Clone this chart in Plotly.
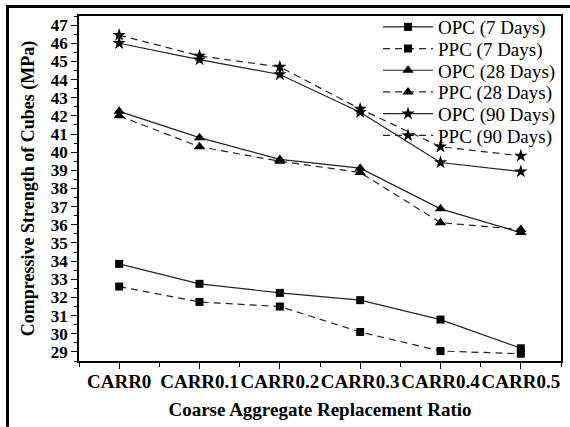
import plotly.graph_objects as go

categories = ["CARR0", "CARR0.1", "CARR0.2", "CARR0.3", "CARR0.4", "CARR0.5"]
opc_7 = [33.85, 32.75, 32.25, 31.85, 30.78, 29.2]
ppc_7 = [32.6, 31.75, 31.5, 30.1, 29.05, 28.9]
opc_28 = [42.25, 40.8, 39.6, 39.12, 36.88, 35.57]
ppc_28 = [42.0, 40.3, 39.5, 38.88, 36.12, 35.74]
opc_90 = [46.0, 45.1, 44.28, 42.2, 39.43, 38.93]
ppc_90 = [46.45, 45.3, 44.7, 42.38, 40.3, 39.8]
y_ticks = list(range(29, 48))

series = [
    ("OPC (7 Days)", opc_7, "solid", "square", 8),
    ("PPC (7 Days)", ppc_7, "7px,5px", "square", 8),
    ("OPC (28 Days)", opc_28, "solid", "triangle-up", 10),
    ("PPC (28 Days)", ppc_28, "7px,5px", "triangle-up", 10),
    ("OPC (90 Days)", opc_90, "solid", "star", 10),
    ("PPC (90 Days)", ppc_90, "7px,5px", "star", 10),
]

W, H = 570, 427
L, R, T, B = 79, 9, 15, 66
pw, ph = W - L - R, H - T - B

def px_x(p):
    return (p - L) / pw

def px_y(p):
    return (H - B - p) / ph

serif = "Liberation Serif, Times New Roman, serif"
xs = list(range(len(categories)))
fig = go.Figure()
legends = {}
for i, (name, vals, dash, sym, size) in enumerate(series):
    lg = "legend" if i == 0 else f"legend{i + 1}"
    fig.add_trace(go.Scatter(
        x=xs, y=vals, name=name, mode="lines+markers", legend=lg,
        line=dict(color="#222222", width=1.2, dash=dash),
        marker=dict(symbol=sym, size=size, color="black"),
    ))
    legends[lg] = dict(
        x=px_x(378), y=px_y(27 + 21.7 * i), xanchor="left", yanchor="middle",
        bgcolor="rgba(0,0,0,0)", font=dict(family=serif, size=19, color="black"),
        itemwidth=50,
    )

fig.update_layout(
    width=W, height=H,
    margin=dict(l=L, r=R, t=T, b=B),
    plot_bgcolor="white", paper_bgcolor="white",
    font=dict(family=serif, color="black"),
    showlegend=True,
    **legends,
    xaxis=dict(
        range=[-0.5, 5.5], tickmode="array", tickvals=xs, ticktext=categories,
        tickangle=0, ticklabelstandoff=-4,
        ticks="outside", ticklen=6, tickwidth=1.2, tickcolor="black",
        minor=dict(tickmode="array", tickvals=[-0.5, 0.5, 1.5, 2.5, 3.5, 4.5, 5.5],
                   ticks="outside", ticklen=4, tickcolor="black", tickwidth=1.2),
        showline=True, linecolor="black", linewidth=1.5, mirror=True,
        showgrid=False, zeroline=False, automargin=False,
        tickfont=dict(family=serif, size=19, weight="bold", color="black"),
        title=dict(text="Coarse Aggregate Replacement Ratio", standoff=12,
                   font=dict(family=serif, size=19, weight="bold", color="black")),
    ),
    yaxis=dict(
        range=[28.5, 47.5], tickmode="array", tickvals=y_ticks,
        ticks="outside", ticklen=6, tickwidth=1.2, tickcolor="black",
        minor=dict(dtick=0.5, ticks="outside", ticklen=3, tickcolor="black", tickwidth=1.2),
        showline=True, linecolor="black", linewidth=1.5, mirror=True,
        showgrid=False, zeroline=False, automargin=False,
        tickfont=dict(family=serif, size=17, weight="bold", color="black"),
        title=dict(text="Compressive Strength of Cubes (MPa)", standoff=12,
                   font=dict(family=serif, size=18, weight="bold", color="black")),
    ),
    shapes=[
        dict(type="line", xref="paper", yref="paper", x0=px_x(6), x1=px_x(W), y0=px_y(5.5), y1=px_y(5.5),
             line=dict(color="black", width=3)),
        dict(type="line", xref="paper", yref="paper", x0=px_x(7.5), x1=px_x(7.5), y0=px_y(4), y1=px_y(H),
             line=dict(color="black", width=3)),
    ],
)

fig.write_html("out.html", config={"displayModeBar": False},
               post_script="document.body.style.margin='0';document.body.style.overflow='hidden';")
